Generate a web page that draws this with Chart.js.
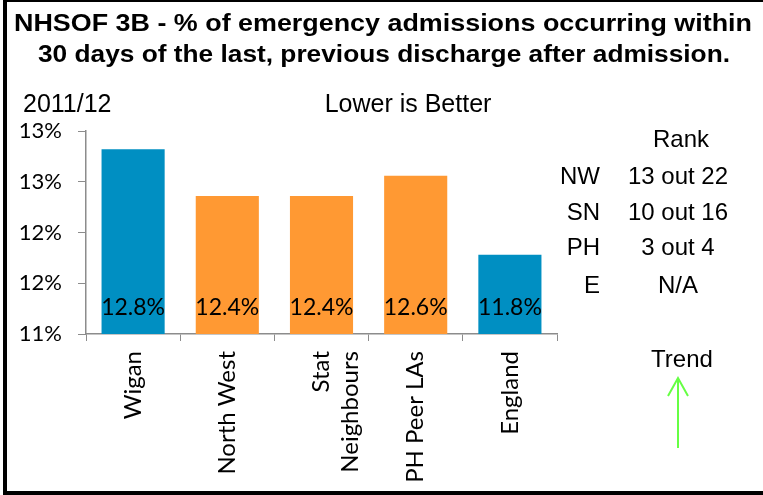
<!DOCTYPE html>
<html>
<head>
<meta charset="utf-8">
<script src="https://cdn.jsdelivr.net/npm/chart.js@4.4.0/dist/chart.umd.min.js"></script>
<style>
  html, body { margin: 0; padding: 0; background: #fff; }
  #wrap { position: relative; width: 763px; height: 495px; }
</style>
</head>
<body>
<div id="wrap"><canvas id="myChart" width="763" height="495"></canvas></div>
<script>
// Chart data
const categories = ['Wigan', 'North West', ['Stat', 'Neighbours'], 'PH Peer LAs', 'England'];
const values = [12.82, 12.36, 12.36, 12.56, 11.78];
const barColors = ['#008FC2', '#FF9933', '#FF9933', '#FF9933', '#008FC2'];

// Rank panel
const rankAreas = ['NW', 'SN', 'PH', 'E'];
const rankValues = ['13 out 22', '10 out 16', '3 out 4', 'N/A'];

const titleLines = [
    'NHSOF 3B - % of emergency admissions occurring within',
    '30 days of the last, previous discharge after admission.'
];

// draw text stretched/squeezed to a given width
function drawFit(ctx, text, cx, y, width) {
    const w = ctx.measureText(text).width;
    ctx.save();
    ctx.translate(cx, y);
    ctx.scale(width / w, 1);
    ctx.textAlign = 'center';
    ctx.fillText(text, 0, 0);
    ctx.restore();
}

// Titles, value labels, rank table, trend arrow, frame
const extras = {
    id: 'extras',
    afterDraw(chart) {
        const ctx = chart.ctx;
        const yScale = chart.scales.y;
        const xScale = chart.scales.x;
        ctx.save();
        ctx.fillStyle = '#000';
        ctx.textBaseline = 'alphabetic';

        // value labels at the foot of each bar
        ctx.font = '23px Lato';
        ctx.textAlign = 'center';
        const baseY = yScale.getPixelForValue(yScale.min);
        values.forEach((v, i) => {
            ctx.fillText(v.toFixed(1) + '%', xScale.getPixelForValue(i), baseY - 19);
        });

        // title
        ctx.font = 'bold 23px "Liberation Sans"';
        drawFit(ctx, titleLines[0], 383, 31, 738);
        drawFit(ctx, titleLines[1], 384, 62, 692);

        ctx.font = '25px "Liberation Sans"';
        ctx.textAlign = 'left';
        ctx.fillText('2011/12', 23, 112);
        ctx.textAlign = 'center';
        ctx.fillText('Lower is Better', 408, 112);

        // rank panel
        ctx.font = '24px "Liberation Sans"';
        ctx.fillText('Rank', 681, 147);
        const rowY = [184, 220, 255, 293];
        rankAreas.forEach((a, i) => {
            ctx.textAlign = 'right';
            ctx.fillText(a, 600, rowY[i]);
            ctx.textAlign = 'center';
            ctx.fillText(rankValues[i], 678, rowY[i]);
        });

        ctx.fillText('Trend', 682, 367);

        // green trend arrow
        ctx.strokeStyle = '#66FF44';
        ctx.lineWidth = 2;
        ctx.beginPath();
        ctx.moveTo(678, 448);
        ctx.lineTo(678, 378);
        ctx.moveTo(668, 396);
        ctx.lineTo(678, 378);
        ctx.lineTo(688, 396);
        ctx.stroke();

        // frame
        ctx.fillStyle = '#000';
        ctx.fillRect(3, 0, 760, 2);
        ctx.fillRect(3, 0, 4, 495);
        ctx.fillRect(3, 491, 760, 4);
        ctx.restore();
    }
};

const ctx = document.getElementById('myChart').getContext('2d');
new Chart(ctx, {
    type: 'bar',
    data: {
        labels: categories,
        datasets: [{
            data: values,
            backgroundColor: barColors,
            borderWidth: 0,
            barPercentage: 0.67,
            categoryPercentage: 1.0
        }]
    },
    options: {
        responsive: false,
        animation: false,
        devicePixelRatio: 1,
        layout: { padding: { top: 131, right: 206, left: 0, bottom: 0 } },
        plugins: {
            legend: { display: false },
            tooltip: { enabled: false }
        },
        scales: {
            x: {
                afterFit: s => { s.height = 161; },
                grid: {
                    offset: true,
                    drawOnChartArea: false,
                    tickLength: 7,
                    color: '#8C8C8C'
                },
                border: { color: '#8C8C8C', width: 1.5 },
                ticks: {
                    color: '#000',
                    font: { family: 'Lato', size: 24 },
                    minRotation: 90,
                    maxRotation: 90,
                    autoSkip: false,
                    padding: 10
                }
            },
            y: {
                min: 11,
                max: 13,
                afterFit: s => { s.width = 86; },
                grid: {
                    drawOnChartArea: false,
                    tickLength: 8,
                    color: '#8C8C8C'
                },
                border: { color: '#8C8C8C', width: 1.5 },
                ticks: {
                    stepSize: 0.5,
                    color: '#000',
                    font: { family: 'Lato', size: 22 },
                    padding: 16,
                    callback: v => Math.round(v) + '%'
                }
            }
        }
    },
    plugins: [extras]
});
</script>
</body>
</html>
